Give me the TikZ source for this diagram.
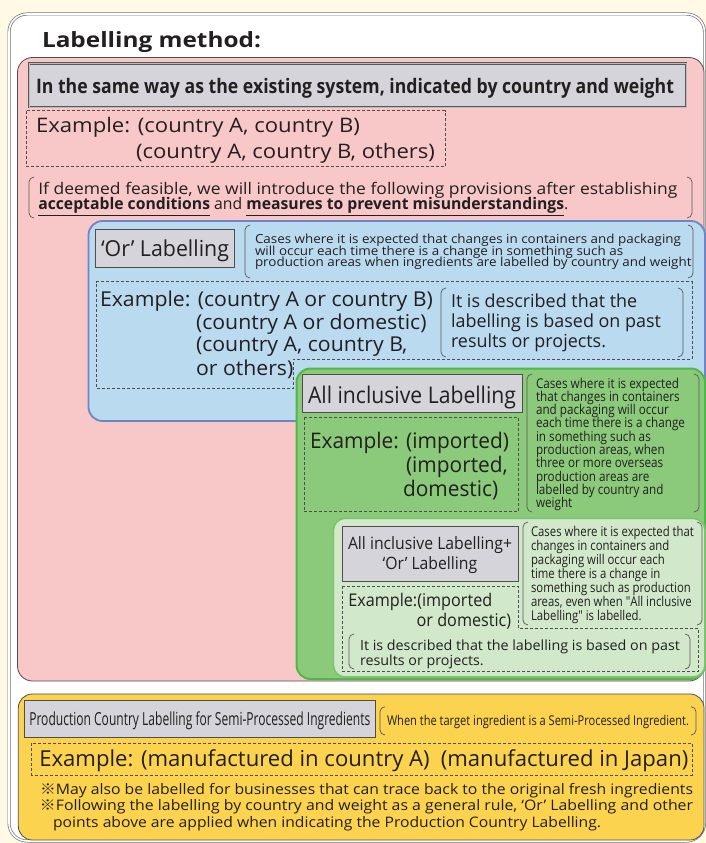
\documentclass[tikz,border=0pt]{standalone}
\usepackage{graphicx}
\usepackage{fontspec}
\setmainfont{Open Sans}
\newfontfamily\cjk{Noto Sans CJK JP}
\definecolor{bgc}{HTML}{FFF9E6}
\definecolor{ink}{HTML}{231F20}
\definecolor{pinkf}{HTML}{F8C8C9}
\definecolor{bluef}{HTML}{BADAF0}
\definecolor{bluebd}{HTML}{7085C5}
\definecolor{greenf}{HTML}{8BC97B}
\definecolor{greenbd}{HTML}{4FB848}
\definecolor{lgreenf}{HTML}{D1E8CA}
\definecolor{lgreenbd}{HTML}{7BC46C}
\definecolor{yellowf}{HTML}{FCD34E}
\definecolor{grayf}{HTML}{D4D4DA}
\newlength\tmpw
\newcommand\fs[2]{\fontsize{#1}{#2}\selectfont}
\newcommand\fw[2]{\resizebox{#1pt}{\height}{#2}}
\newcommand\setsq[4]{\settowidth\tmpw{#3#4}\pgfmathsetmacro#1{#2/\tmpw}}
\newcommand\sqx[2]{\scalebox{#1}[1]{#2}}
\newcommand\notebr[4]{%
  \draw[brk] (#1+5,#2) -- (#1,#2) -- (#1,#4) -- (#1+5,#4);
  \draw[brk] (#3-5,#2) -- (#3,#2) -- (#3,#4) -- (#3-5,#4);}
\tikzset{
  txt/.style={inner sep=0pt, outer sep=0pt, anchor=base west, text=ink},
  ctxt/.style={inner sep=0pt, outer sep=0pt, anchor=base, text=ink},
  graybox/.style={draw=ink!80, line width=0.8pt, fill=grayf},
  dbox/.style={draw=ink!80, dashed, dash pattern=on 3pt off 2pt, line width=0.7pt},
  brk/.style={draw=ink!75, line width=0.7pt, rounded corners=5pt},
}
\begin{document}
\setsq{\fA}{426}{\fs{12.5}{12}}{Cases where it is expected that changes in containers and packaging}%
\setsq{\fB}{333}{\fs{20.5}{20}}{Example: (country A or country B)}%
\setsq{\fC}{210}{\fs{18}{18}}{labelling is based on past}%
\setsq{\fD}{199}{\fs{21.5}{21}}{Example: (imported)}%
\setsq{\fE}{149}{\fs{13.5}{13}}{each time there is a change}%
\setsq{\fF}{164}{\fs{17}{17}}{All inclusive Labelling+}%
\setsq{\fG}{144}{\fs{17.5}{17}}{Example:(imported}%
\setsq{\fH}{163}{\fs{13.5}{13}}{Cases where it is expected that}%
\setsq{\fI}{320}{\fs{14}{14}}{It is described that the labelling is based on past}%
\begin{tikzpicture}[x=1pt,y=-1pt]
\useasboundingbox (0,0) rectangle (706,843);
\fill[bgc] (0,0) rectangle (706,843);
% outer white panel
\draw[draw=black!55, double=white, double distance=1.6pt, line width=0.7pt, fill=white, rounded corners=18pt] (9,14) rectangle (704.5,841);
\node[txt, font=\bfseries\fs{21}{21}] (title) at (42,48) {\fw{219}{Labelling method:}};

% pink panel
\draw[draw=ink!80, line width=0.8pt, fill=pinkf, rounded corners=15pt] (17.5,57.5) rectangle (704,681);
\draw[draw=ink!75, double=ink!30, double distance=0.9pt, line width=0.6pt, fill=grayf] (29,63.5) rectangle (686,107);
\node[txt, font=\bfseries\fs{20}{20}] (hdr) at (36,93) {\fw{638}{In the same way as the existing system, indicated by country and weight}};
\draw[dbox] (26.7,110.7) rectangle (445,166.7);
\node[txt, font=\fs{20}{20}] (ex1a) at (36,132.7) {\fw{324}{Example: (country A, country B)}};
\node[txt, font=\fs{20}{20}] (ex1b) at (136,158.3) {\fw{299}{(country A, country B, others)}};
\notebr{29}{177}{692}{218}
\node[txt, font=\fs{16}{16}] (n1a) at (38.3,194.5) {\fw{639}{If deemed feasible, we will introduce the following provisions after establishing}};
\node[txt, font=\fs{16}{16}] (n1b) at (38.3,209.5) {\fw{530}{\underline{\textbf{acceptable conditions}} and \underline{\textbf{measures to prevent misunderstandings}}.}};

% blue panel
\draw[draw=bluebd, line width=1.8pt, fill=bluef, rounded corners=14pt] (88.5,221) rectangle (705,421);
\draw[graybox] (95.5,229.5) rectangle (234.5,267);
\node[txt, font=\fs{22}{22}] (orl) at (101,256.7) {\fw{128}{‘Or’ Labelling}};
\notebr{245}{225}{693}{278}
\node[txt, font=\fs{12.5}{12}] (bn1) at (255,243.3) {\sqx{\fA}{Cases where it is expected that changes in containers and packaging}};
\node[txt, font=\fs{12.5}{12}] (bn2) at (255,255) {\sqx{\fA}{will occur each time there is a change in something such as}};
\node[txt, font=\fs{12.5}{12}] (bn3) at (255,266.7) {\sqx{\fA}{production areas when ingredients are labelled by country and weight}};
\draw[dbox] (96,281.7) -- (692,281.7) -- (692,359) -- (293.3,359) -- (293.3,388.3) -- (96,388.3) -- cycle;
\node[txt, font=\fs{20.5}{20}] (bx1) at (100,306.7) {\sqx{\fB}{Example: (country A or country B)}};
\node[txt, font=\fs{20.5}{20}] (bx2) at (196,329.3) {\sqx{\fB}{(country A or domestic)}};
\node[txt, font=\fs{20.5}{20}] (bx3) at (196,351.7) {\sqx{\fB}{(country A, country B,}};
\node[txt, font=\fs{20.5}{20}] (bx4) at (196,375) {\sqx{\fB}{or others)}};
\notebr{441}{288}{683}{357}
\node[txt, font=\fs{18}{18}] (bb1) at (451,307) {\sqx{\fC}{It is described that the}};
\node[txt, font=\fs{18}{18}] (bb2) at (451,327.7) {\sqx{\fC}{labelling is based on past}};
\node[txt, font=\fs{18}{18}] (bb3) at (451,347.7) {\sqx{\fC}{results or projects.}};

% green panel
\draw[draw=greenbd, line width=2pt, fill=greenf, rounded corners=14pt] (296.5,368.5) rectangle (705,679);
\draw[graybox] (302,374) rectangle (522.7,412.3);
\node[txt, font=\fs{23}{23}] (ail) at (308,403.3) {\fw{208}{All inclusive Labelling}};
\draw[dbox] (304,417) rectangle (518.3,511.7);
\node[txt, font=\fs{21.5}{21}] (ge1) at (310,448) {\sqx{\fD}{Example: (imported)}};
\node[txt, font=\fs{21.5}{21}] (ge2) at (406,472.7) {\sqx{\fD}{(imported,}};
\node[txt, font=\fs{21.5}{21}] (ge3) at (403,496.7) {\sqx{\fD}{domestic)}};
\notebr{527}{374}{699}{512}
\node[txt, font=\fs{13.5}{13}] (gn1) at (536,388) {\sqx{\fE}{Cases where it is expected}};
\node[txt, font=\fs{13.5}{13}] (gn2) at (536,401.3) {\sqx{\fE}{that changes in containers}};
\node[txt, font=\fs{13.5}{13}] (gn3) at (536,414.6) {\sqx{\fE}{and packaging will occur}};
\node[txt, font=\fs{13.5}{13}] (gn4) at (536,427.9) {\sqx{\fE}{each time there is a change}};
\node[txt, font=\fs{13.5}{13}] (gn5) at (536,441.2) {\sqx{\fE}{in something such as}};
\node[txt, font=\fs{13.5}{13}] (gn6) at (536,454.5) {\sqx{\fE}{production areas, when}};
\node[txt, font=\fs{13.5}{13}] (gn7) at (536,467.8) {\sqx{\fE}{three or more overseas}};
\node[txt, font=\fs{13.5}{13}] (gn8) at (536,481.1) {\sqx{\fE}{production areas are}};
\node[txt, font=\fs{13.5}{13}] (gn9) at (536,494.4) {\sqx{\fE}{labelled by country and}};
\node[txt, font=\fs{13.5}{13}] (gn10) at (536,507.7) {\sqx{\fE}{weight}};

% light green panel
\draw[draw=lgreenbd, line width=1.6pt, fill=lgreenf, rounded corners=12pt] (333.3,518.3) rectangle (705,677);
\draw[graybox] (342,526) rectangle (518,581);
\node[ctxt, font=\fs{17}{17}] (g2a) at (430,549) {\sqx{\fF}{All inclusive Labelling+}};
\node[ctxt, font=\fs{17}{17}] (g2b) at (430,569.3) {\sqx{\fF}{‘Or’ Labelling}};
\draw[dbox] (342,586) -- (518.3,586) -- (518.3,628.3) -- (698,628.3) -- (698,671.7) -- (342,671.7) -- cycle;
\node[txt, font=\fs{17.5}{17}] (le1) at (348.3,606) {\sqx{\fG}{Example:(imported}};
\node[txt, font=\fs{17.5}{17}] (le2) at (416.7,626.7) {\sqx{\fG}{or domestic)}};
\notebr{523}{522}{702}{625}
\node[txt, font=\fs{13.5}{13}] (ln1) at (531,536) {\sqx{\fH}{Cases where it is expected that}};
\node[txt, font=\fs{13.5}{13}] (ln2) at (531,550) {\sqx{\fH}{changes in containers and}};
\node[txt, font=\fs{13.5}{13}] (ln3) at (531,564) {\sqx{\fH}{packaging will occur each}};
\node[txt, font=\fs{13.5}{13}] (ln4) at (531,578) {\sqx{\fH}{time there is a change in}};
\node[txt, font=\fs{13.5}{13}] (ln5) at (531,592) {\sqx{\fH}{something such as production}};
\node[txt, font=\fs{13.5}{13}] (ln6) at (531,606) {\sqx{\fH}{areas, even when \textquotedbl All inclusive}};
\node[txt, font=\fs{13.5}{13}] (ln7) at (531,620) {\sqx{\fH}{Labelling\textquotedbl{} is labelled.}};
\notebr{349}{634}{690}{669}
\node[txt, font=\fs{14}{14}] (lb1) at (360,650) {\sqx{\fI}{It is described that the labelling is based on past}};
\node[txt, font=\fs{14}{14}] (lb2) at (360,665) {\sqx{\fI}{results or projects.}};

% yellow panel
\draw[draw=ink!80, line width=0.8pt, fill=yellowf, rounded corners=14pt] (18.3,694) rectangle (704,840);
\draw[graybox] (24,700) rectangle (375,737.3);
\node[txt, font=\fs{18}{18}] (ygt) at (29.3,725.7) {\fw{341}{Production Country Labelling for Semi-Processed Ingredients}};
\notebr{380}{706.7}{696}{735}
\node[txt, font=\fs{13.5}{13}] (ybt) at (387,725) {\fw{302}{When the target ingredient is a Semi-Processed Ingredient.}};
\draw[dbox] (31.7,743) rectangle (692,775);
\node[txt, font=\fs{22}{22}] (yex) at (39.3,766.7) {\fw{649}{Example: (manufactured in country A)\hspace{0.5em}(manufactured in Japan)}};
\node[txt, font=\fs{14.5}{14}] (yn1) at (40,794) {\fw{653}{{\cjk ※}May also be labelled for businesses that can trace back to the original fresh ingredients}};
\node[txt, font=\fs{14.5}{14}] (yn2) at (40,810.7) {\fw{653}{{\cjk ※}Following the labelling by country and weight as a general rule, ‘Or’ Labelling and other}};
\node[txt, font=\fs{14.5}{14}] (yn3) at (53,827.3) {\fw{548}{points above are applied when indicating the Production Country Labelling.}};
\end{tikzpicture}
\end{document}
